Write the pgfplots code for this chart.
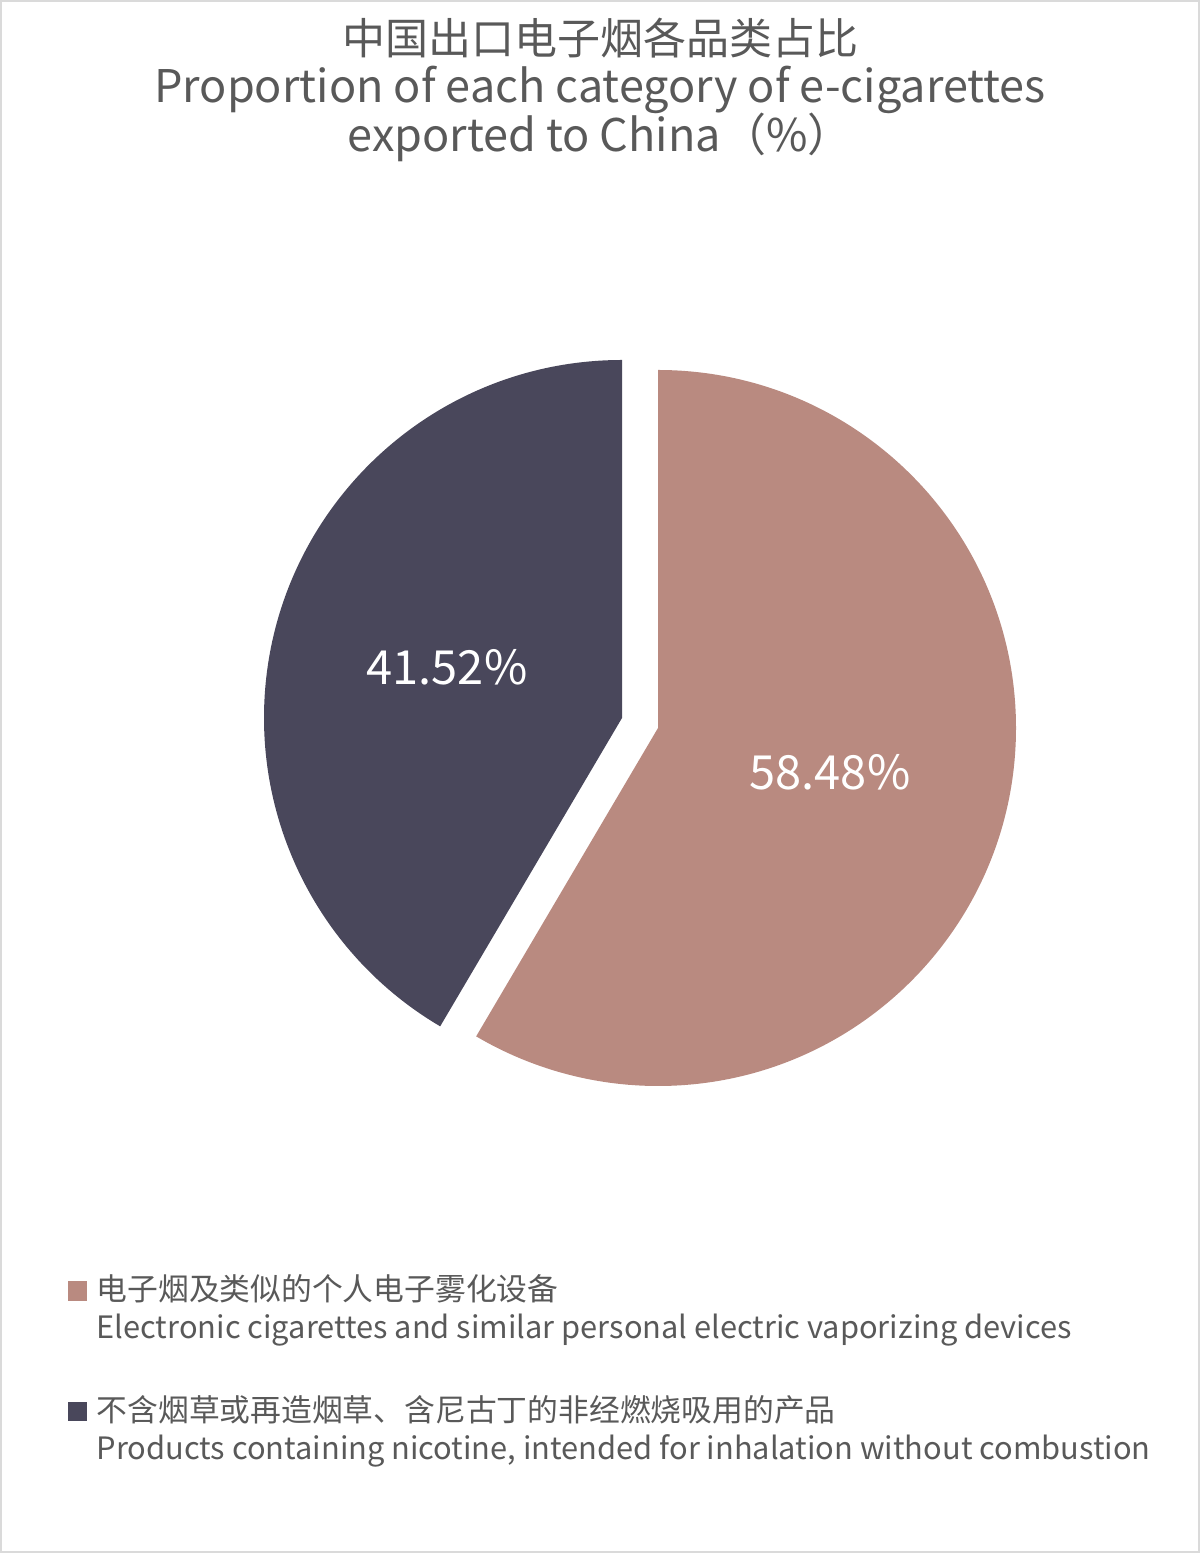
\documentclass[border=0pt]{standalone}
\usepackage{pgfplots}
\pgfplotsset{compat=1.18}
\usepackage{pgfplotstable}
\usepackage{fontspec}
\setmainfont{Noto Sans CJK SC}

\definecolor{vape}{HTML}{B98A80}
\definecolor{nico}{HTML}{49475B}
\definecolor{txt}{HTML}{595959}
\definecolor{frame}{HTML}{DADADA}

% share of each category, percent
\pgfplotstableread{
share
58.48
41.52
}\sharedata
\pgfplotstablegetelem{0}{share}\of\sharedata \let\va\pgfplotsretval
\pgfplotstablegetelem{1}{share}\of\sharedata \let\vb\pgfplotsretval
\pgfmathsetmacro\aend{90-3.6*\va}
\pgfmathsetmacro\bend{90+3.6*\vb}

\begin{document}
\begin{tikzpicture}
\begin{axis}[
    scale only axis,
    width=300pt, height=388.25pt,
    xmin=0, xmax=1200, ymin=0, ymax=1553,
    hide axis, clip=false,
    legend style={
        at={(axis cs:67,287)}, anchor=north west,
        draw=none, fill=none, inner sep=0pt,
        font=\fontsize{7.7pt}{9.5pt}\selectfont, text=txt,
        cells={anchor=west, align=left, inner sep=0pt},
        column sep=0.3pt, row sep=8.6pt,
    },
]
\addlegendimage{legend image code/.code={\fill[vape] (0pt,2.4pt) rectangle (4.5pt,6.9pt);}}
\addlegendentry{电子烟及类似的个人电子雾化设备\\Electronic cigarettes and similar personal electric vaporizing devices}
\addlegendimage{legend image code/.code={\fill[nico] (0pt,2.4pt) rectangle (4.5pt,6.9pt);}}
\addlegendentry{不含烟草或再造烟草、含尼古丁的非经燃烧吸用的产品\\Products containing nicotine, intended for inhalation without combustion}

% slices
\fill[vape] (axis cs:658,825) -- ++(90:89.5pt)
    arc[start angle=90, end angle=\aend, radius=89.5pt] -- cycle;
\fill[nico] (axis cs:622,835) -- ++(90:89.5pt)
    arc[start angle=90, end angle=\bend, radius=89.5pt] -- cycle;

% slice labels
\node[white, anchor=base, font=\fontsize{11.75pt}{14pt}\selectfont] at (axis cs:447,868) {\pgfmathprintnumber[assume math mode=true, fixed, precision=2, fixed zerofill]{\vb}\%};
\node[white, anchor=base, font=\fontsize{11.75pt}{14pt}\selectfont] at (axis cs:830,763) {\pgfmathprintnumber[assume math mode=true, fixed, precision=2, fixed zerofill]{\va}\%};

% titles
\node[txt, anchor=base, font=\fontsize{10.75pt}{12pt}\selectfont] at (axis cs:600,1498) {中国出口电子烟各品类占比};
\node[txt, anchor=base, font=\fontsize{11.25pt}{12pt}\selectfont] at (axis cs:600,1450) {Proportion of each category of e-cigarettes};
\node[txt, anchor=base, font=\fontsize{11.25pt}{12pt}\selectfont] at (axis cs:600,1401) {exported to China（\%）};

% frame
\draw[frame, line width=0.5pt] (axis cs:1,1) rectangle (axis cs:1199,1552);
\end{axis}
\end{tikzpicture}
\end{document}
